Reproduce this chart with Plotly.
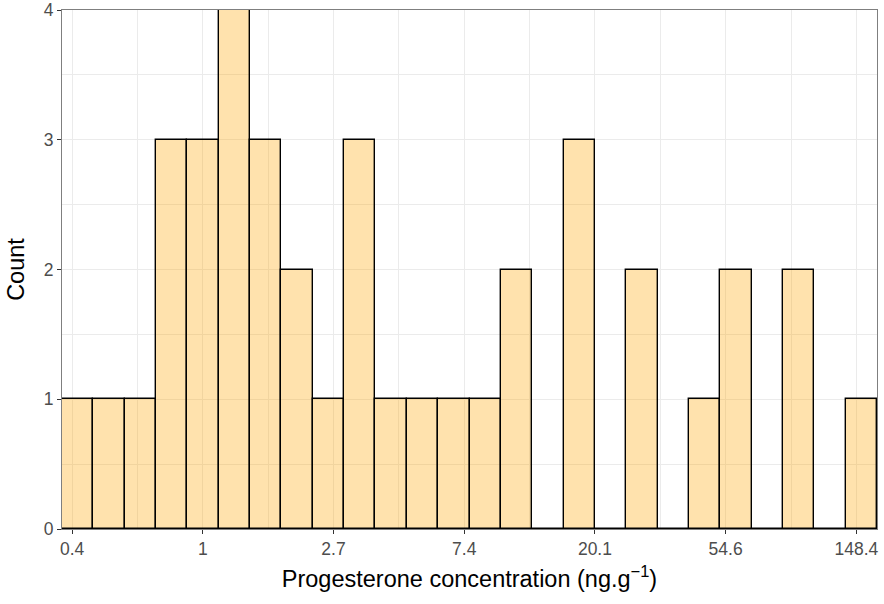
import plotly.graph_objects as go

# Histogram of ln(progesterone), counts per bin
counts = [1, 1, 1, 3, 3, 4, 3, 2, 1, 3, 1, 1, 1, 1, 2, 0, 3, 0, 2, 0, 1, 2, 0, 2, 0, 1]
bin_start = -1.077   # ln scale, left edge of first bin
bin_width = 0.2398   # ln units

tick_vals = [-1, 0, 1, 2, 3, 4, 5]  # ln values
tick_labels = ["0.4", "1", "2.7", "7.4", "20.1", "54.6", "148.4"]
y_ticks = [0, 1, 2, 3, 4]

centers = [bin_start + bin_width * (i + 0.5) for i in range(len(counts))]
x_min = bin_start
x_max = bin_start + bin_width * len(counts)

fig = go.Figure()
fig.add_trace(go.Bar(
    x=centers, y=counts, width=[bin_width] * len(counts),
    marker=dict(color="rgba(255,165,0,0.32)", line=dict(color="black", width=1.4)),
    showlegend=False,
))

grid = "#EBEBEB"
fig.update_layout(
    width=884, height=604,
    margin=dict(l=62, r=7, t=10, b=75, autoexpand=False),
    plot_bgcolor="white", paper_bgcolor="white",
    font=dict(family="Liberation Sans, Arial, sans-serif", color="black"),
    bargap=0,
    xaxis=dict(
        range=[x_min, x_max], tickvals=tick_vals, ticktext=tick_labels,
        automargin=False,
        showgrid=True, gridcolor=grid, gridwidth=1.2,
        minor=dict(tickvals=[-0.5, 0.5, 1.5, 2.5, 3.5, 4.5], showgrid=True, gridcolor=grid, gridwidth=0.6, ticks=""),
        ticks="outside", ticklen=4, tickcolor="#333333", tickwidth=1,
        tickfont=dict(size=17.5, color="#4D4D4D"),
        showline=True, linecolor="#7F7F7F", linewidth=1, mirror=True,
        zeroline=False,
        title=dict(text="Progesterone concentration (ng.g<sup>−1</sup>)", font=dict(size=23.5, color="black"), standoff=12),
    ),
    yaxis=dict(
        range=[0, 4], tickvals=y_ticks,
        automargin=False,
        showgrid=True, gridcolor=grid, gridwidth=1.2,
        minor=dict(tickvals=[0.5, 1.5, 2.5, 3.5], showgrid=True, gridcolor=grid, gridwidth=0.6, ticks=""),
        ticks="outside", ticklen=4, tickcolor="#333333", tickwidth=1,
        tickfont=dict(size=17.5, color="#4D4D4D"),
        showline=True, linecolor="#7F7F7F", linewidth=1, mirror=True,
        zeroline=False,
        title=dict(text="Count", font=dict(size=23.5, color="black"), standoff=12),
    ),
)

fig.write_html("out.html", config={"displayModeBar": False},
               post_script="document.body.style.margin='0';document.body.style.overflow='hidden';")
